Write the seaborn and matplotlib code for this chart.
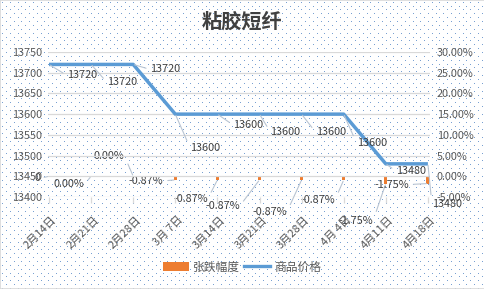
import numpy as np
import matplotlib
matplotlib.use("Agg")
import matplotlib.pyplot as plt
import seaborn as sns
from matplotlib.transforms import ScaledTranslation
from matplotlib.patches import Patch, Rectangle
from matplotlib.lines import Line2D

# ---------------- data ----------------
dates = ["2月14日", "2月21日", "2月28日", "3月 7日", "3月14日",
         "3月21日", "3月28日", "4月 4日", "4月11日", "4月18日"]
prices = [13720, 13720, 13720, 13600, 13600, 13600, 13600, 13600, 13480, 13480]
changes = [0.0, 0.0, 0.0, -0.0087, -0.0087, -0.0087, -0.0087, -0.0087, -0.0175, -0.0175]
change_labels = ["0", "0.00%", "0.00%", "-0.87%", "-0.87%", "-0.87%",
                 "-0.87%", "-0.87%", "-1.75%", "-1.75%"]
left_ticks = [13400, 13450, 13500, 13550, 13600, 13650, 13700, 13750]
right_ticks = [-0.05, 0.0, 0.05, 0.10, 0.15, 0.20, 0.25, 0.30]
title = "粘胶短纤"
legend_labels = ["张跌幅度", "商品价格"]

# label offsets in pixels (dx right, dy up) -- layout only
price_label_offsets = [(33, -11), (31, -18), (32, -5), (30, -34), (31, -11),
                       (26, -18), (29, -18), (28, -29), (25, -7), (19, -40)]
change_label_offsets = [(-12, -2), (-22, -8), (-24, 20), (-29, -1), (-27, -19),
                        (-37, -26), (-32, -32), (-26, -20), (-30, -37), (-36, -1)]

FONT = ["Noto Sans CJK SC", "DejaVu Sans"]
plt.rcParams["font.family"] = FONT
TXT = "#595959"
BLUE = "#5b9bd5"
ORANGE = "#ed7d31"
GRID = "#d9d9d9"
LEAD = "#b8c4d2"

W, H = 485, 289
fig = plt.figure(figsize=(W / 100, H / 100), dpi=100)
fig.patch.set_facecolor("white")

# dotted background pattern
bg = np.ones((H, W, 3))
dot = np.array([120, 160, 210]) / 255.0
r = 0
y = 1.7
while y < H:
    x = 2.3 + (r % 2) * 3.83
    while x < W:
        bg[int(round(y)) % H, int(round(x)) % W] = dot
        x += 7.67
    y += 3.87
    r += 1
fig.figimage(bg, xo=0, yo=0, origin="upper", zorder=-5)
fig.patches.append(Rectangle((0, 0), 1, 1, transform=fig.transFigure, fill=False,
                             ec=GRID, lw=1.2, zorder=-4))

ax = fig.add_axes([48 / W, 1 - 197 / H, (430 - 48) / W, (197 - 52) / H])
ax2 = ax.twinx()
ax2.set_zorder(1)
ax.set_zorder(2)
ax.patch.set_visible(False)
ax2.patch.set_visible(False)

pos = np.arange(len(dates))

sns.barplot(x=pos, y=changes, native_scale=True, width=0.07, color=ORANGE,
            saturation=1, ax=ax2)
sns.lineplot(x=pos, y=prices, color=BLUE, linewidth=2.5, ax=ax, legend=False)
for ln in ax.lines:
    ln.set_solid_joinstyle("round")
    ln.set_solid_capstyle("butt")

ax.set_ylim(13400, 13750)
ax2.set_ylim(-0.05, 0.30)
ax.set_xlim(-0.024, 9.05)
ax.set_yticks(left_ticks)
ax.set_yticklabels([str(v) for v in left_ticks])
ax2.set_yticks(right_ticks)
ax2.set_yticklabels([f"{v*100:.2f}%" for v in right_ticks])
ax.set_xticks(pos)
ax.set_xticklabels(dates, rotation=45, ha="right", va="center", rotation_mode="anchor")
ax.set_xlabel("")
ax.set_ylabel("")
ax2.set_ylabel("")
ax.grid(axis="y", color=GRID, lw=0.9)
ax.grid(axis="x", visible=False)
for a in (ax, ax2):
    for s in a.spines.values():
        s.set_visible(False)
ax.tick_params(axis="y", length=0, pad=4, labelsize=7.8, labelcolor=TXT)
ax2.tick_params(axis="y", length=0, pad=5, labelsize=7.8, labelcolor=TXT)
ax.tick_params(axis="x", length=4, color=GRID, width=0.9, pad=11, labelsize=8,
               labelcolor=TXT, direction="out")
off = ScaledTranslation(6 / 100, 0, fig.dpi_scale_trans)
for lbl in ax.get_xticklabels():
    lbl.set_transform(lbl.get_transform() + off)

# data labels
for i, (p, (dx, dy)) in enumerate(zip(prices, price_label_offsets)):
    ax.annotate(str(p), (pos[i], p), xytext=(dx, dy), textcoords="offset pixels",
                ha="center", va="center", fontsize=7.8, color="#404040",
                arrowprops=dict(arrowstyle="-", color=LEAD, lw=0.8, shrinkA=1,
                                shrinkB=1, relpos=(0, 0.5)))
for i, (c, t, (dx, dy)) in enumerate(zip(changes, change_labels, change_label_offsets)):
    ax2.annotate(t, (pos[i], c), xytext=(dx, dy), textcoords="offset pixels",
                 ha="center", va="center", fontsize=7.8, color="#404040",
                 arrowprops=dict(arrowstyle="-", color=LEAD, lw=0.8, shrinkA=1,
                                 shrinkB=1, relpos=(1, 0.5)))

fig.text(242 / W, 1 - 21 / H, title, ha="center", va="center", fontsize=14.5,
         fontweight="bold", color="#404040")

handles = [Patch(facecolor=ORANGE, edgecolor="none"), Line2D([], [], color=BLUE, lw=2.4)]
fig.legend(handles, legend_labels, loc="center", bbox_to_anchor=(242 / W, 1 - 267 / H),
           ncol=2, frameon=False, fontsize=8.5, handlelength=2.2, handletextpad=0.4,
           columnspacing=0.3, labelcolor=TXT, handleheight=0.7)

fig.savefig("out.png", dpi=100)
